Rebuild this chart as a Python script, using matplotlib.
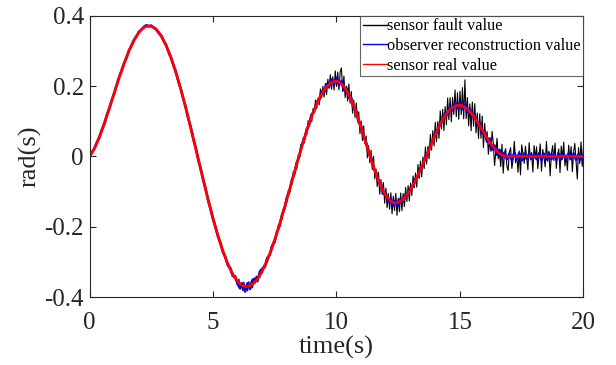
"""
Sensor fault vs observer reconstruction vs real sensor value.
Saves out.png (616x365).
"""

import matplotlib

matplotlib.use("Agg")
import matplotlib.pyplot as plt
import numpy as np

plt.rcParams["font.family"] = ["Liberation Serif", "DejaVu Serif"]

# sample grid, 0.05 s
time_s = np.linspace(0, 20, 401)

# sensor real value (rad), one row per second
sensor_real = [
    0.0000, 0.0055, 0.0110, 0.0173, 0.0235, 0.0310, 0.0385, 0.0470, 0.0555, 0.0650,
    0.0745, 0.0845, 0.0945, 0.1050, 0.1155, 0.1263, 0.1370, 0.1480, 0.1590, 0.1700,
    0.1810, 0.1920, 0.2030, 0.2138, 0.2245, 0.2348, 0.2450, 0.2548, 0.2646, 0.2740,
    0.2833, 0.2920, 0.3006, 0.3085, 0.3164, 0.3235, 0.3306, 0.3368, 0.3429, 0.3481,
    0.3532, 0.3573, 0.3614, 0.3643, 0.3672, 0.3690, 0.3708, 0.3717, 0.3720, 0.3717,
    0.3708, 0.3691, 0.3673, 0.3644, 0.3615, 0.3575, 0.3534, 0.3483, 0.3431, 0.3369,
    0.3306, 0.3233, 0.3160, 0.3077, 0.2994, 0.2902, 0.2810, 0.2709, 0.2607, 0.2498,
    0.2388, 0.2271, 0.2154, 0.2031, 0.1907, 0.1778, 0.1648, 0.1512, 0.1376, 0.1238,
    0.1099, 0.0957, 0.0815, 0.0670, 0.0525, 0.0378, 0.0231, 0.0084, -0.0063, -0.0211,
    -0.0358, -0.0504, -0.0650, -0.0794, -0.0938, -0.1079, -0.1220, -0.1358, -0.1496, -0.1629,
    -0.1762, -0.1890, -0.2018, -0.2136, -0.2253, -0.2366, -0.2479, -0.2585, -0.2690, -0.2787,
    -0.2883, -0.2971, -0.3059, -0.3137, -0.3215, -0.3283, -0.3351, -0.3408, -0.3465, -0.3511,
    -0.3557, -0.3592, -0.3627, -0.3651, -0.3674, -0.3686, -0.3697, -0.3700, -0.3697, -0.3686,
    -0.3675, -0.3654, -0.3632, -0.3600, -0.3567, -0.3524, -0.3481, -0.3428, -0.3375, -0.3313,
    -0.3250, -0.3178, -0.3106, -0.3026, -0.2945, -0.2857, -0.2768, -0.2671, -0.2574, -0.2472,
    -0.2369, -0.2261, -0.2152, -0.2039, -0.1926, -0.1807, -0.1687, -0.1566, -0.1444, -0.1320,
    -0.1195, -0.1070, -0.0944, -0.0818, -0.0692, -0.0566, -0.0439, -0.0315, -0.0190, -0.0068,
    0.0055, 0.0174, 0.0293, 0.0409, 0.0525, 0.0635, 0.0745, 0.0850, 0.0954, 0.1053,
    0.1151, 0.1243, 0.1334, 0.1417, 0.1499, 0.1574, 0.1649, 0.1715, 0.1780, 0.1836,
    0.1892, 0.1938, 0.1984, 0.2020, 0.2055, 0.2080, 0.2105, 0.2119, 0.2133, 0.2138,
    0.2139, 0.2132, 0.2119, 0.2094, 0.2069, 0.2030, 0.1990, 0.1938, 0.1885, 0.1820,
    0.1754, 0.1678, 0.1601, 0.1514, 0.1427, 0.1332, 0.1236, 0.1133, 0.1030, 0.0922,
    0.0814, 0.0703, 0.0591, 0.0478, 0.0365, 0.0252, 0.0139, 0.0029, -0.0081, -0.0188,
    -0.0294, -0.0394, -0.0494, -0.0587, -0.0679, -0.0762, -0.0845, -0.0918, -0.0990, -0.1050,
    -0.1110, -0.1158, -0.1205, -0.1239, -0.1272, -0.1292, -0.1311, -0.1318, -0.1320, -0.1316,
    -0.1305, -0.1288, -0.1270, -0.1243, -0.1215, -0.1178, -0.1141, -0.1095, -0.1049, -0.0995,
    -0.0940, -0.0878, -0.0815, -0.0747, -0.0678, -0.0604, -0.0530, -0.0451, -0.0372, -0.0291,
    -0.0209, -0.0125, -0.0040, 0.0045, 0.0130, 0.0214, 0.0298, 0.0381, 0.0464, 0.0544,
    0.0623, 0.0699, 0.0775, 0.0846, 0.0916, 0.0980, 0.1044, 0.1101, 0.1158, 0.1207,
    0.1255, 0.1295, 0.1335, 0.1366, 0.1396, 0.1417, 0.1437, 0.1447, 0.1457, 0.1460,
    0.1458, 0.1450, 0.1439, 0.1421, 0.1402, 0.1375, 0.1347, 0.1312, 0.1276, 0.1234,
    0.1192, 0.1144, 0.1095, 0.1042, 0.0989, 0.0933, 0.0876, 0.0818, 0.0759, 0.0701,
    0.0642, 0.0585, 0.0527, 0.0472, 0.0417, 0.0366, 0.0314, 0.0269, 0.0224, 0.0185,
    0.0146, 0.0115, 0.0084, 0.0061, 0.0038, 0.0024, 0.0010, 0.0004, 0.0000, 0.0002,
    0.0005, -0.0002, -0.0008, 0.0001, 0.0010, 0.0003, -0.0004, 0.0001, 0.0007, -0.0002,
    -0.0010, -0.0003, 0.0003, 0.0006, 0.0008, 0.0001, -0.0006, -0.0001, 0.0004, -0.0003,
    -0.0009, -0.0002, 0.0006, 0.0004, 0.0002, -0.0002, -0.0005, 0.0002, 0.0009, 0.0003,
    -0.0003, 0.0002, 0.0006, -0.0001, -0.0008, -0.0002, 0.0004, 0.0003, 0.0001, -0.0003,
    -0.0006, 0.0001, 0.0008, 0.0003, -0.0002, 0.0002, 0.0005, -0.0001, -0.0007, -0.0002,
    0.0003, 0.0006, 0.0009, 0.0003, -0.0004, -0.0001, 0.0002, -0.0002, -0.0005, -0.0001,
    0.0003,
]

# observer reconstruction minus real value (rad), every 0.1 s
observer_dev = [
    0.000, 0.001, -0.001, 0.002, -0.001, 0.001, -0.002, 0.002, -0.001, 0.001,
    -0.002, 0.001, 0.002, -0.001, 0.001, -0.002, 0.002, -0.001, 0.001, -0.002,
    0.002, -0.001, 0.002, 0.003, -0.002, 0.002, -0.001, 0.001, -0.002, 0.002,
    -0.001, 0.002, -0.002, 0.001, -0.001, 0.002, -0.002, 0.001, -0.001, 0.002,
    -0.002, 0.001, -0.001, 0.002, -0.002, 0.001, -0.001, 0.002, -0.002, 0.001,
    -0.002, 0.002, -0.002, 0.003, -0.003, 0.003, -0.004, 0.004, -0.005, 0.005,
    -0.008, -0.013, 0.006, -0.015, 0.009, -0.010, 0.012, 0.009, -0.006, 0.010,
    0.006, -0.004, 0.006, -0.003, 0.004, -0.005, 0.003, -0.004, 0.004, -0.003,
    0.004, -0.003, 0.004, -0.004, 0.003, -0.004, 0.005, -0.003, 0.004, -0.004,
    0.005, -0.005, 0.006, -0.005, 0.007, -0.006, 0.008, -0.007, 0.009, -0.008,
    0.010, -0.009, 0.008, -0.010, 0.007, -0.008, 0.006, -0.007, 0.006, -0.006,
    0.005, -0.005, 0.004, -0.005, 0.005, -0.004, 0.005, -0.006, 0.006, -0.007,
    0.006, -0.008, 0.007, -0.010, 0.008, -0.009, 0.007, -0.006, 0.006, -0.005,
    0.005, -0.004, 0.005, -0.005, 0.004, -0.005, 0.006, -0.005, 0.006, -0.006,
    0.006, -0.007, 0.007, -0.006, 0.008, -0.007, 0.008, -0.008, 0.009, -0.008,
    0.008, -0.009, 0.007, -0.008, 0.009, -0.007, 0.008, -0.009, 0.008, -0.010,
    0.009, -0.011, 0.010, -0.012, 0.009, -0.010, 0.011, -0.009, 0.010, -0.008,
    0.008, -0.009, 0.010, -0.007, 0.009, -0.010, 0.008, -0.008, 0.009, -0.007,
    0.008, -0.008, 0.009, -0.010, 0.007, -0.008, 0.010, -0.007, 0.008, -0.009,
    0.007, -0.009, 0.008, -0.008, 0.010, -0.007, 0.008, -0.009, 0.007, -0.008,
    0.006,
]

# faulty sensor minus real value (rad), every 0.05 s
fault_dev = [
    0.000, 0.000, 0.000, 0.000, 0.000, 0.000, 0.000, 0.000, 0.000, 0.000,
    0.000, 0.000, 0.000, 0.000, 0.000, 0.000, 0.000, 0.000, 0.000, 0.000,
    0.000, 0.000, 0.000, 0.000, 0.000, 0.000, 0.000, 0.000, 0.000, 0.000,
    0.000, 0.000, 0.000, 0.000, 0.000, 0.000, 0.000, 0.000, 0.000, 0.000,
    0.000, 0.000, 0.000, 0.000, 0.000, 0.000, 0.000, 0.000, 0.000, 0.000,
    0.000, 0.000, 0.000, 0.000, 0.000, 0.000, 0.000, 0.000, 0.000, 0.000,
    0.000, 0.000, 0.000, 0.000, 0.000, 0.000, 0.000, 0.000, 0.000, 0.000,
    0.000, 0.000, 0.000, 0.000, 0.000, 0.000, 0.000, 0.000, 0.000, 0.000,
    0.000, 0.000, 0.000, 0.000, 0.000, 0.000, 0.000, 0.000, 0.000, 0.000,
    0.000, 0.000, 0.000, 0.000, 0.000, 0.000, 0.000, 0.000, 0.000, 0.000,
    0.000, 0.000, 0.000, 0.000, 0.000, 0.000, 0.000, 0.000, 0.000, 0.000,
    0.002, -0.002, 0.003, -0.002, 0.004, -0.003, 0.005, -0.004, 0.006, -0.005,
    -0.008, 0.010, -0.012, 0.006, -0.014, 0.011, -0.009, 0.004, -0.013, 0.012,
    -0.006, 0.010, -0.011, 0.008, -0.005, 0.012, -0.009, 0.007, -0.006, 0.010,
    -0.007, 0.008, -0.004, 0.009, -0.008, 0.005, -0.006, 0.010, -0.005, 0.007,
    -0.009, 0.006, -0.004, 0.011, -0.007, 0.008, -0.010, 0.009, -0.006, 0.012,
    -0.009, 0.011, -0.013, 0.007, -0.010, 0.014, -0.008, 0.012, -0.015, 0.010,
    -0.011, 0.016, -0.007, 0.013, -0.014, 0.009, -0.012, 0.017, -0.010, 0.014,
    -0.016, 0.012, -0.009, 0.019, -0.014, 0.008, -0.018, 0.021, -0.011, 0.016,
    -0.020, 0.014, -0.022, 0.018, -0.012, 0.025, -0.019, 0.015, -0.024, 0.030,
    -0.015, 0.027, -0.022, 0.033, 0.045, -0.018, 0.030, -0.026, 0.012, -0.024,
    0.031, -0.016, 0.025, -0.028, 0.018, -0.022, 0.029, -0.013, 0.024, -0.027,
    0.020, -0.025, 0.028, -0.012, 0.022, -0.029, 0.017, -0.021, 0.026, -0.018,
    0.030, -0.024, 0.014, -0.027, 0.023, -0.031, 0.019, -0.016, 0.025, -0.028,
    0.021, -0.030, 0.015, -0.026, 0.024, -0.034, 0.018, -0.022, 0.027, -0.036,
    0.012, -0.028, 0.023, -0.030, 0.016, -0.025, 0.026, -0.019, 0.022, -0.027,
    0.018, -0.023, 0.026, -0.014, 0.021, -0.027, 0.030, -0.017, 0.024, -0.029,
    0.019, -0.022, 0.031, -0.026, 0.015, -0.028, 0.033, -0.020, 0.027, -0.024,
    0.035, -0.028, 0.022, -0.033, 0.038, -0.019, 0.030, -0.036, 0.026, -0.030,
    0.041, -0.025, 0.034, -0.038, 0.029, -0.022, 0.046, -0.031, 0.036, -0.040,
    0.040, -0.026, 0.052, -0.035, 0.078, -0.030, 0.033, -0.044, 0.022, -0.050,
    0.036, -0.028, 0.041, -0.037, 0.025, -0.042, 0.034, -0.030, 0.039, -0.045,
    0.030, -0.012, 0.018, -0.041, 0.005, -0.022, 0.040, 0.010, -0.048, -0.006,
    0.037, -0.018, 0.003, -0.035, 0.031, -0.050, 0.008, 0.022, -0.028, -0.040,
    0.012, 0.025, -0.033, -0.008, 0.042, -0.018, 0.004, -0.045, 0.015, -0.052,
    0.034, 0.006, -0.020, 0.028, -0.004, -0.038, 0.040, -0.010, 0.011, -0.044,
    0.032, -0.006, 0.027, -0.035, 0.004, 0.036, -0.041, 0.020, -0.002, -0.030,
    0.043, -0.014, 0.014, -0.055, 0.008, 0.031, -0.012, 0.038, -0.034, 0.006,
    0.022, -0.046, 0.029, -0.008, 0.041, -0.027, 0.003, -0.039, 0.033, -0.010,
    0.028, -0.044, 0.012, 0.037, -0.015, -0.064, 0.025, -0.020, 0.042, -0.028,
    0.028,
]

series_labels = ["sensor fault value", "observer reconstruction value", "sensor real value"]
x_ticks = [0, 5, 10, 15, 20]
y_ticks = [-0.4, -0.2, 0, 0.2, 0.4]
y_tick_labels = ["-0.4", "-0.2", "0", "0.2", "0.4"]

AXIS_COLOR = "#262626"


def main():
    real = np.array(sensor_real)
    fault = real + np.array(fault_dev)
    # observer output is logged at half the rate
    obs_time = time_s[::2]
    observer = real[::2] + np.array(observer_dev)

    fig = plt.figure(figsize=(6.16, 3.65), dpi=100)
    ax = fig.add_axes([0.1453, 0.1863, 0.8019, 0.7699])

    ax.plot(time_s, fault, color="#000000", lw=0.8, label=series_labels[0])
    ax.plot(obs_time, observer, color="#0000ff", lw=1.8, label=series_labels[1])
    ax.plot(time_s, real, color="#ff0000", lw=2.0, label=series_labels[2])

    ax.set_xlim(0, 20)
    ax.set_ylim(-0.4, 0.4)
    ax.set_xticks(x_ticks)
    ax.set_yticks(y_ticks)
    ax.set_yticklabels(y_tick_labels)
    ax.tick_params(direction="in", length=4, width=0.8, top=True, right=True,
                   labelsize=18, colors=AXIS_COLOR)
    ax.tick_params(axis="x", pad=11)
    ax.tick_params(axis="y", pad=4)
    for spine in ax.spines.values():
        spine.set_color(AXIS_COLOR)
        spine.set_linewidth(0.8)

    ax.set_xlabel("time(s)", fontsize=19, color=AXIS_COLOR, labelpad=1)
    ax.set_ylabel("rad(s)", fontsize=19, color=AXIS_COLOR, labelpad=2)

    leg = ax.legend(loc="upper right", fontsize=11.8, frameon=True, fancybox=False,
                    borderaxespad=0, borderpad=0.15, handlelength=1.45,
                    handletextpad=0.05, labelspacing=0.22)
    leg.get_frame().set_edgecolor("#404040")
    leg.get_frame().set_linewidth(0.8)
    for line in leg.get_lines():
        line.set_linewidth(1.0)

    fig.savefig("out.png", dpi=100)
    plt.close(fig)


if __name__ == "__main__":
    main()
